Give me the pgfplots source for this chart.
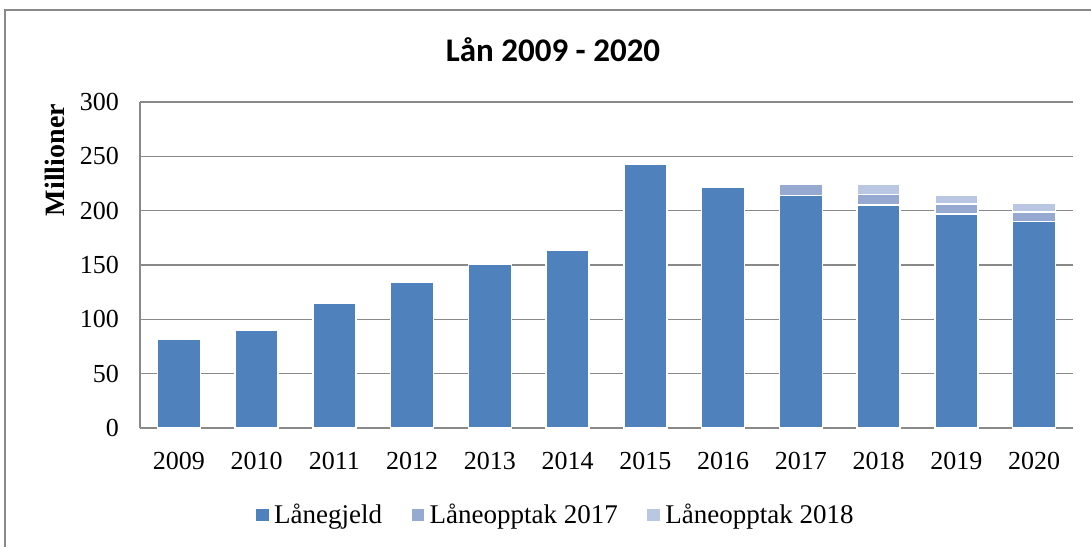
\documentclass[border=0pt]{standalone}
\usepackage{pgfplots}
\pgfplotsset{compat=1.18}
\usepackage{fontspec}
\setmainfont{Liberation Serif}
\newfontfamily\titlefont{Carlito}
\definecolor{c1}{HTML}{4F81BD}
\definecolor{c2}{HTML}{95A9D1}
\definecolor{c3}{HTML}{B9C7E2}
\definecolor{gridc}{HTML}{898989}
\begin{document}
\begin{tikzpicture}[x=1pt,y=1pt]
\useasboundingbox (0,0) rectangle (545.5,273);
\draw[gridc, line width=0.8pt] (2.5,-10) -- (2.5,268) -- (560,268);
\begin{axis}[
  at={(70pt,59pt)}, anchor=south west,
  scale only axis, width=466.5pt, height=163pt,
  ybar stacked, bar width=21.5pt,
  xmin=-0.5, xmax=11.5, ymin=0, ymax=300,
  xtick={0,...,11},
  xticklabels={2009,2010,2011,2012,2013,2014,2015,2016,2017,2018,2019,2020},
  ytick={0,50,...,300},
  ymajorgrids, grid style={gridc, line width=0.8pt},
  axis lines*=left,
  axis line style={gridc, line width=0.8pt, -},
  major tick length=0pt,
  tick label style={font=\fontsize{13}{15}\selectfont},
  /pgf/number format/assume math mode=true,
  yticklabel style={xshift=-7pt},
  xticklabel style={yshift=-8.5pt},
  clip=false,
  legend style={draw=none, at={(0.446,-0.267)}, anchor=center,
    legend columns=3, font=\fontsize{13.5}{16}\selectfont,
    /tikz/every odd column/.append style={column sep=0pt},
    /tikz/every even column/.append style={column sep=12pt}},
  legend image code/.code={\fill[#1] (0pt,-3.5pt) rectangle (7pt,3.5pt);},
]
\addplot[fill=c1, draw=white, line width=0.8pt] coordinates {
(0,82) (1,90) (2,115) (3,134) (4,151) (5,164) (6,243) (7,222) (8,214) (9,205) (10,197) (11,190)};
\addplot[fill=c2, draw=white, line width=0.8pt] coordinates {
(0,0) (1,0) (2,0) (3,0) (4,0) (5,0) (6,0) (7,0) (8,10) (9,10) (10,9) (11,9)};
\addplot[fill=c3, draw=white, line width=0.8pt] coordinates {
(0,0) (1,0) (2,0) (3,0) (4,0) (5,0) (6,0) (7,0) (8,0) (9,9) (10,8) (11,8)};
\legend{Lånegjeld, Låneopptak 2017, Låneopptak 2018}
\node[font=\titlefont\bfseries\fontsize{16.5}{19}\selectfont] at (axis description cs:0.4427,1.16) {Lån 2009 - 2020};
\node[rotate=90, font=\bfseries\fontsize{14}{16}\selectfont] at (axis description cs:-0.0911,0.822) {Millioner};
\end{axis}
\end{tikzpicture}
\end{document}
